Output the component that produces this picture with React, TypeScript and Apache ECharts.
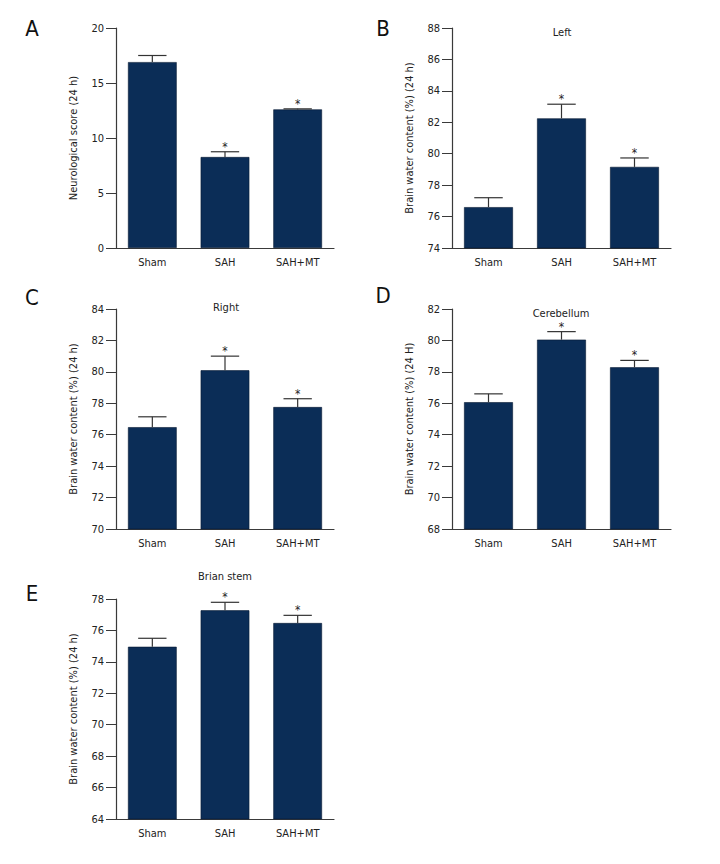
import React, { useEffect, useRef } from "react";
import * as echarts from "echarts";

const categories = ["Sham", "SAH", "SAH+MT"];

const panelLetters = ["A", "B", "C", "D", "E"];
const panelTitles = ["", "Left", "Right", "Cerebellum", "Brian stem"];
const yAxisNames = [
  "Neurological score (24 h)",
  "Brain water content (%) (24 h)",
  "Brain water content (%) (24 h)",
  "Brain water content (%) (24 H)",
  "Brain water content (%) (24 h)",
];
const yMins = [0, 74, 70, 68, 64];
const yMaxs = [20, 88, 84, 82, 78];
const yIntervals = [5, 2, 2, 2, 2];

const meansA = [16.9, 8.27, 12.6];
const errTopsA = [17.5, 8.75, 12.65];
const meansB = [76.6, 82.25, 79.16];
const errTopsB = [77.2, 83.15, 79.73];
const meansC = [76.48, 80.1, 77.76];
const errTopsC = [77.14, 81.0, 78.29];
const meansD = [76.07, 80.05, 78.29];
const errTopsD = [76.6, 80.56, 78.73];
const meansE = [74.96, 77.28, 76.47];
const errTopsE = [75.5, 77.79, 76.96];
const starFlags = [false, true, true];

const allMeans = [meansA, meansB, meansC, meansD, meansE];
const allErrTops = [errTopsA, errTopsB, errTopsC, errTopsD, errTopsE];

const FONT = "'DejaVu Sans Condensed', 'Roboto', sans-serif";
const BAR = "#0b2d57";
const AXIS = "#3a3a3a";

const grids = [
  { left: 116, top: 28, width: 218, height: 220 },
  { left: 452, top: 28, width: 219, height: 220 },
  { left: 116, top: 309, width: 218, height: 220 },
  { left: 452, top: 309, width: 219, height: 220 },
  { left: 116, top: 599, width: 218, height: 220 },
];
const letterPos = [
  [32, 28],
  [383, 28],
  [32, 297],
  [383, 295],
  [32, 593],
];
const titlePos = [
  [0, 0],
  [562, 32],
  [226, 307],
  [561, 313],
  [225, 576],
];

export default function App() {
  const ref = useRef<HTMLDivElement>(null);
  useEffect(() => {
    document.body.style.margin = "0";
    if (!ref.current) return;
    const chart = echarts.init(ref.current, null, { renderer: "svg" });
    const xAxes: any[] = [];
    const yAxes: any[] = [];
    const series: any[] = [];
    const graphics: any[] = [];
    for (let i = 0; i < 5; i++) {
      xAxes.push({
        type: "category",
        gridIndex: i,
        data: categories,
        axisLine: { lineStyle: { color: AXIS, width: 1.2 } },
        axisTick: { alignWithLabel: true, length: 5, lineStyle: { color: AXIS } },
        axisLabel: { color: "#222", fontSize: 11, fontFamily: FONT, margin: 9 },
      });
      yAxes.push({
        type: "value",
        gridIndex: i,
        min: yMins[i],
        max: yMaxs[i],
        interval: yIntervals[i],
        name: yAxisNames[i],
        nameLocation: "middle",
        nameGap: 37,
        nameTextStyle: { color: "#222", fontSize: 11, fontFamily: FONT },
        splitLine: { show: false },
        axisLine: { show: true, lineStyle: { color: AXIS, width: 1.2 } },
        axisTick: { show: true, length: 10, lineStyle: { color: AXIS } },
        axisLabel: { color: "#222", fontSize: 11, fontFamily: FONT, margin: 12 },
      });
      series.push({
        type: "bar",
        xAxisIndex: i,
        yAxisIndex: i,
        data: allMeans[i],
        barWidth: "67%",
        itemStyle: { color: BAR, borderColor: "#061a33", borderWidth: 0.6 },
      });
      const errData = allMeans[i].map((m, k) => [k, m, allErrTops[i][k], starFlags[k] ? 1 : 0]);
      series.push({
        type: "custom",
        xAxisIndex: i,
        yAxisIndex: i,
        data: errData,
        z: 5,
        renderItem: (params: any, api: any) => {
          const x = api.value(0);
          const p0 = api.coord([x, api.value(1)]);
          const p1 = api.coord([x, api.value(2)]);
          const band = api.size([1, 0])[0];
          const half = band * 0.195;
          const children: any[] = [
            {
              type: "line",
              shape: { x1: p0[0], y1: p0[1], x2: p1[0], y2: p1[1] },
              style: { stroke: "#333", lineWidth: 1.2 },
            },
            {
              type: "line",
              shape: { x1: p1[0] - half, y1: p1[1], x2: p1[0] + half, y2: p1[1] },
              style: { stroke: "#333", lineWidth: 1.2 },
            },
          ];
          if (api.value(3) === 1) {
            children.push({
              type: "text",
              style: {
                text: "*",
                x: p1[0],
                y: p1[1] - 5,
                align: "center",
                verticalAlign: "middle",
                fill: "#222",
                fontSize: 12,
                fontFamily: FONT,
              },
            });
          }
          return { type: "group", children };
        },
      });
      graphics.push({
        type: "text",
        x: letterPos[i][0],
        y: letterPos[i][1],
        style: {
          text: panelLetters[i],
          fontSize: 22,
          fontFamily: FONT,
          fill: "#111",
          align: "center",
          verticalAlign: "middle",
        },
      });
      if (panelTitles[i]) {
        graphics.push({
          type: "text",
          x: titlePos[i][0],
          y: titlePos[i][1],
          style: {
            text: panelTitles[i],
            fontSize: 11,
            fontFamily: FONT,
            fill: "#222",
            align: "center",
            verticalAlign: "middle",
          },
        });
      }
    }
    chart.setOption({
      animation: false,
      backgroundColor: "#ffffff",
      grid: grids,
      xAxis: xAxes,
      yAxis: yAxes,
      series,
      graphic: graphics,
    });
    return () => chart.dispose();
  }, []);
  return <div ref={ref} style={{ width: 720, height: 864 }} />;
}
